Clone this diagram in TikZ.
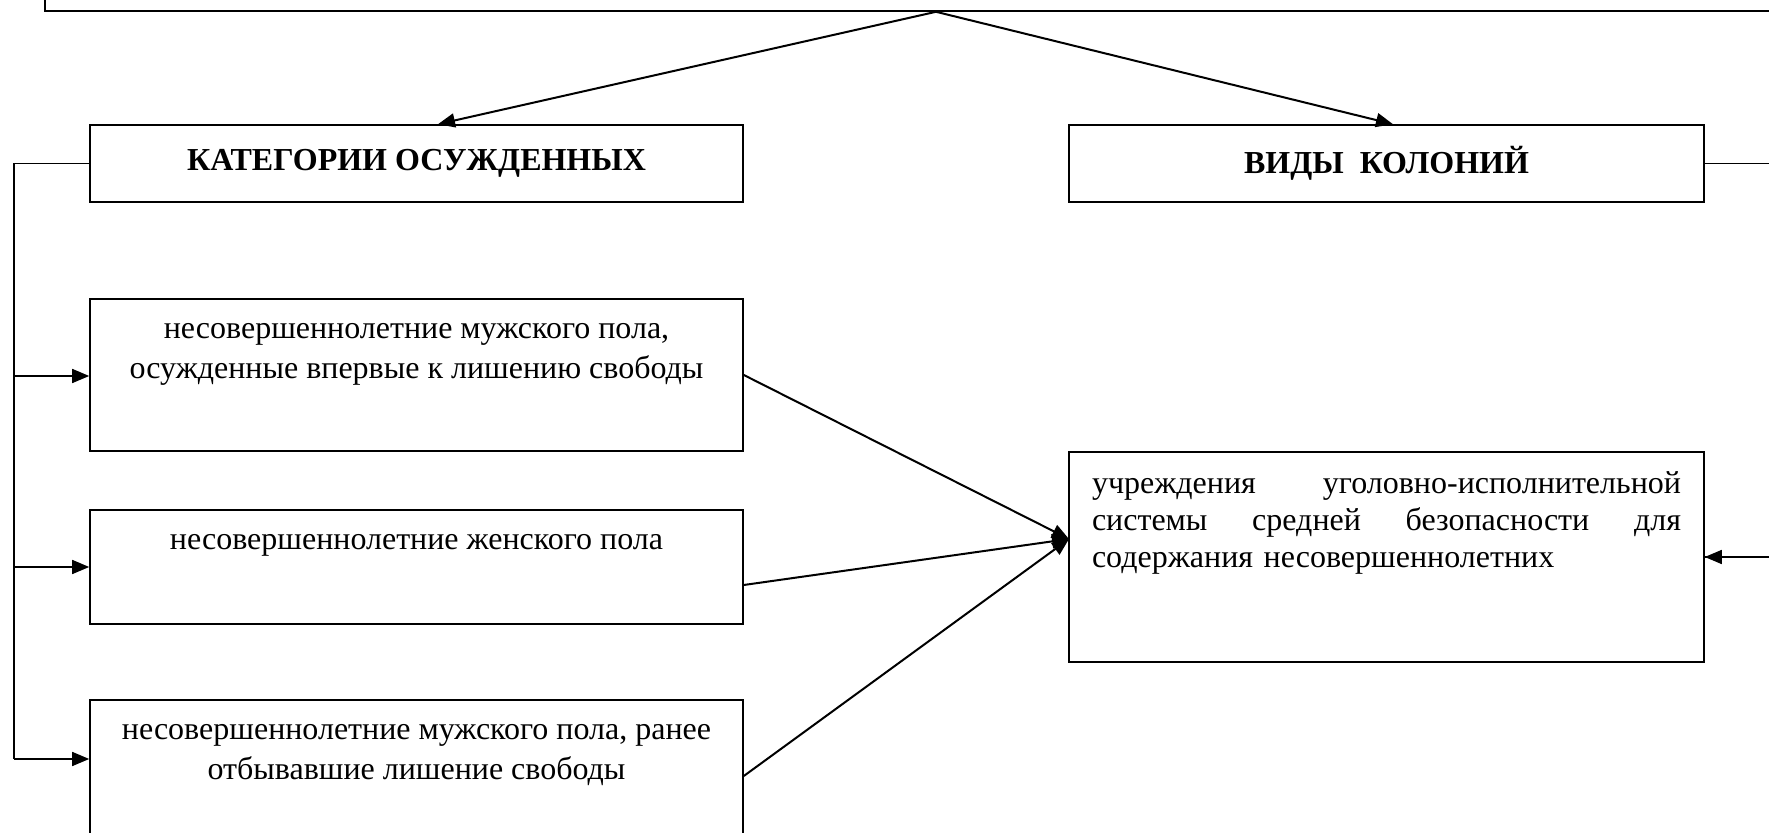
\documentclass[tikz,border=0pt]{standalone}
\usepackage{fontspec}
\setmainfont{Liberation Serif}
\usetikzlibrary{arrows.meta,positioning}

\begin{document}
\begin{tikzpicture}[x=0.5pt, y=-0.5pt,
    >={Triangle[length=8.5pt,width=7pt]},
    box/.style={rectangle, draw, line width=0.8pt, minimum width=#1, inner sep=0pt},
    head/.style={box=326.5pt, minimum height=38.5pt, font=\fontsize{16}{20}\selectfont\bfseries},
    txt/.style={anchor=north, align=center, inner sep=0pt, font=\fontsize{16}{20.3}\selectfont},
    link/.style={line width=1pt, ->},
    bus/.style={line width=0.8pt}
]
\useasboundingbox (0,0) rectangle (1769,833);

% top box (cut off by the page edge)
\node[box=891pt, minimum height=45pt] (top) at (936,-34) {};

% headers
\node[head] (kat) at (416.5,163.5) {КАТЕГОРИИ ОСУЖДЕННЫХ};
\node[head, minimum width=317.5pt] (vid) at (1386.5,163.5) {ВИДЫ\ \ КОЛОНИЙ};

% categories
\node[box=326.5pt, minimum height=76pt] (cat1) at (416.5,375) {};
\node[txt] at ([yshift=-12.25pt]cat1.north) {несовершеннолетние мужского пола,\\осужденные впервые к лишению свободы};
\node[box=326.5pt, minimum height=57pt] (cat2) at (416.5,567) {};
\node[txt] at ([yshift=-12.25pt]cat2.north) {несовершеннолетние женского пола};
\node[box=326.5pt, minimum height=76pt] (cat3) at (416.5,776) {};
\node[txt] at ([yshift=-12.25pt]cat3.north) {несовершеннолетние мужского пола, ранее\\отбывавшие лишение свободы};

% colony
\node[box=317.5pt, minimum height=105pt] (kolon) at (1386.5,557) {};
\node[txt, align=left, text width=294.5pt, font=\fontsize{16}{18.6}\selectfont] at ([yshift=-10pt]kolon.north)
  {учреждения\hfill уголовно-исполнительной\\
   системы\hfill средней\hfill безопасности\hfill для\\
   содержания несовершеннолетних};

% arrows from the top box
\draw[link] (top.south) -- ([xshift=10.75pt]kat.north);
\draw[link] (top.south) -- ([xshift=3.25pt]vid.north);

% left bus
\coordinate (bus1) at (14,376);
\coordinate (bus2) at (14,567);
\coordinate (bus3) at (14,759);
\draw[bus] (kat.west) -| (bus3);
\draw[bus, ->] (bus1) -- (bus1 -| cat1.west);
\draw[bus, ->] (bus2) -- (bus2 -| cat2.west);
\draw[bus, ->] (bus3) -- (bus3 -| cat3.west);

% categories to colony
\coordinate (join) at (1069,539);
\draw[link] (cat1.east) -- (join);
\draw[link] ([yshift=-9pt]cat2.east) -- (join);
\draw[link] (cat3.east) -- (join);

% right side
\draw[bus] (vid.east) -- ++(90,0) |- (kolon.east);
\draw[bus, ->] ([xshift=40pt]kolon.east) -- (kolon.east);
\end{tikzpicture}
\end{document}
